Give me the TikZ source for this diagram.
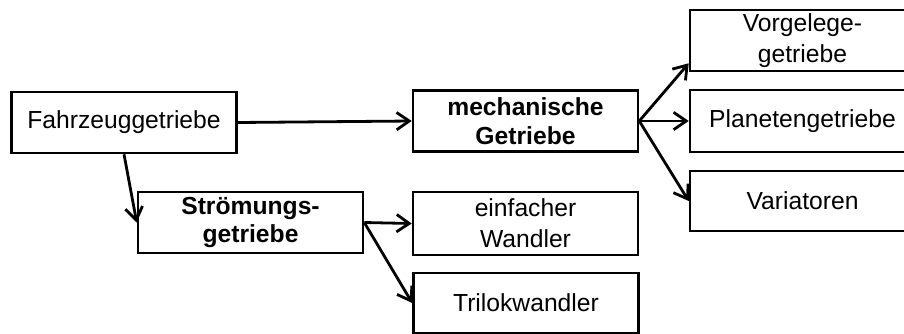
\documentclass[tikz,border=0pt]{standalone}
\usepackage{fontspec}
\setmainfont{Liberation Sans}
\usetikzlibrary{arrows.meta,calc}
\begin{document}
\begin{tikzpicture}[x=0.75pt,y=-0.75pt,
  box/.style={draw=black,line width=1.9pt,rectangle,align=center,inner sep=0pt,
    minimum width=225*0.75pt,minimum height=61*0.75pt,
    font=\fontsize{18.5}{23.5}\selectfont},
  boldbox/.style={box,font=\fontsize{18.5}{21.5}\selectfont\bfseries},
  link/.style={line width=2.1pt,-{Straight Barb[length=9.5pt,width=13pt,line width=2.1pt]}}]
\useasboundingbox (0,0) rectangle (904,333);
% first level
\node[box] (fz) at (124,122.5) {Fahrzeuggetriebe};
% second level
\node[boldbox] (mech) at (525.5,121) {mechanische\\Getriebe};
\node[boldbox] (strom) at (250.5,222.5) {Strömungs-\\getriebe};
% hydrodynamic branch
\node[box,minimum height=63*0.75pt] (einf) at (525.5,223.5) {einfacher\\Wandler};
\node[box,minimum height=60*0.75pt] (tril) at (526,303) {Trilokwandler};
% mechanical branch
\node[box] (vorg) at (802.5,40.5) {Vorgelege-\\getriebe};
\node[box,minimum height=62*0.75pt] (plan) at (802.5,121) {Planetengetriebe};
\node[box,minimum height=60*0.75pt] (var) at (802.5,201) {Variatoren};
% connectors
\draw[link] (fz.east) -- (mech.west);
\draw[link] (fz.south) -- (strom.west);
\draw[link] (mech.east) -- ($(vorg.south west)+(0,-9)$);
\draw[link] (mech.east) -- (plan.west);
\draw[link] (mech.east) -- (var.west);
\draw[link] (strom.east) -- (einf.west);
\draw[link] (strom.east) -- (tril.west);
\end{tikzpicture}
\end{document}
